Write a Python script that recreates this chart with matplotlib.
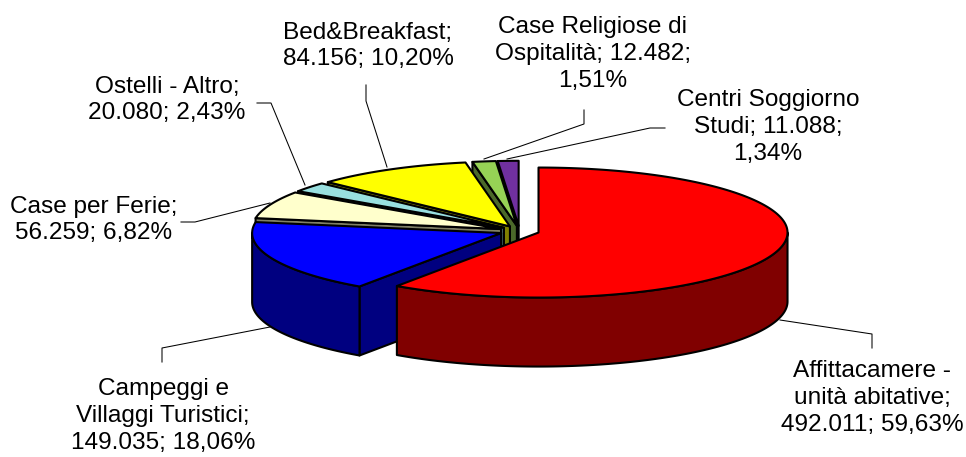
import numpy as np
import matplotlib
matplotlib.use("Agg")
import matplotlib.pyplot as plt

plt.rcParams["font.family"] = ["Liberation Sans", "DejaVu Sans"]

# Data, in drawing order clockwise from 12 o'clock
values = [492011, 149035, 56259, 20080, 84156, 12482, 11088]
labels = [
    "Affittacamere -\nunità abitative;\n492.011; 59,63%",
    "Campeggi e\nVillaggi Turistici;\n149.035; 18,06%",
    "Case per Ferie;\n56.259; 6,82%",
    "Ostelli - Altro;\n20.080; 2,43%",
    "Bed&Breakfast;\n84.156; 10,20%",
    "Case Religiose di\nOspitalità; 12.482;\n1,51%",
    "Centri Soggiorno\nStudi; 11.088;\n1,34%",
]
top_colors = ["#FF0000", "#0000FF", "#FFFFCC", "#99E0E0", "#FFFF00", "#96D255", "#7030A0"]
side_colors = ["#800000", "#000080", "#808066", "#4C7070", "#808000", "#4B692A", "#381850"]

# Label anchor (centre of text block) and leader line paths, in pixels
label_pos = [(872, 398), (163, 416), (94, 220), (167, 100), (368, 46), (593, 54), (768, 127)]
leaders = [
    [(780, 320), (872, 334), (872, 348)],
    [(270, 327), (162, 348), (162, 362)],
    [(270, 203), (195, 222), (181, 222)],
    [(305, 185), (271, 103), (257, 103)],
    [(387, 167), (366, 101), (366, 85)],
    [(484, 159), (584, 124), (584, 110)],
    [(507, 159), (650, 128), (665, 128)],
]

# Pie geometry
cx, cy = 519.5, 231
rx, ry = 249, 65
depth = 69
explode = 0.08

fig = plt.figure(figsize=(9.66, 4.57), dpi=100)
ax = fig.add_axes([0, 0, 1, 1])
ax.set_xlim(0, 966)
ax.set_ylim(457, 0)
ax.axis("off")


def rim(x0, y0, a, b):
    t = np.radians(np.linspace(a, b, max(int(abs(b - a) * 2), 2)))
    return x0 + rx * np.sin(t), y0 - ry * np.cos(t)


def draw_slice(a, b, top, side, zorder):
    mid = np.radians((a + b) / 2)
    x0 = cx + explode * rx * np.sin(mid)
    y0 = cy - explode * ry * np.cos(mid)
    style = dict(edgecolor="black", linewidth=1.5, joinstyle="round", zorder=zorder)

    # cut face along the first edge
    if np.sin(np.radians(a)) < 0:
        xa, ya = rim(x0, y0, a, a)
        fx = [x0, xa[0], xa[0], x0]
        fy = [y0, ya[0], ya[0] + depth, y0 + depth]
        ax.fill(fx, fy, facecolor=side, **style)

    # outer wall, only the part facing the viewer
    lo, hi = max(a, 90), min(b, 270)
    if lo < hi:
        wx, wy = rim(x0, y0, lo, hi)
        ax.fill(np.r_[wx, wx[::-1]], np.r_[wy, wy[::-1] + depth], facecolor=side, **style)

    # top
    tx, ty = rim(x0, y0, a, b)
    ax.fill(np.r_[x0, tx], np.r_[y0, ty], facecolor=top, **style)


angles = np.cumsum([0] + values) / sum(values) * 360
for i in reversed(range(len(values))):
    draw_slice(angles[i], angles[i + 1], top_colors[i], side_colors[i], len(values) - i)

for path in leaders:
    px, py = zip(*path)
    ax.plot(px, py, color="black", linewidth=0.75, zorder=0)

for text, (x, y) in zip(labels, label_pos):
    ax.text(x, y, text, ha="center", va="center", fontsize=17.6, linespacing=1.27, color="black")

fig.savefig("out.png", dpi=100)
